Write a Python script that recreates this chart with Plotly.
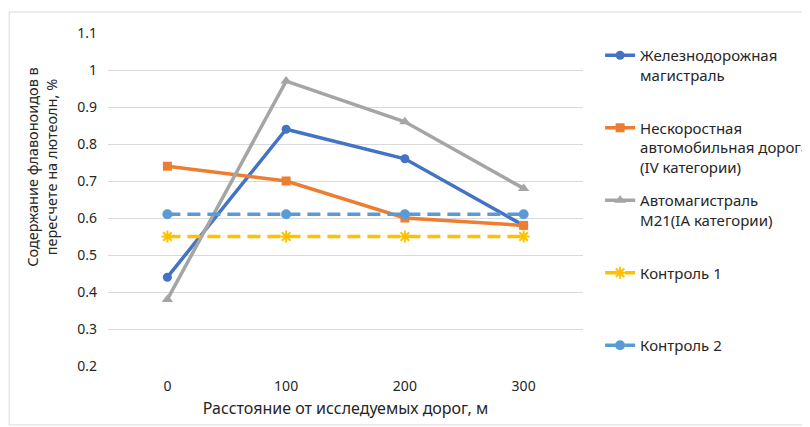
import plotly.graph_objects as go

categories = ["0", "100", "200", "300"]
railway = [0.44, 0.84, 0.76, 0.58]
local_road = [0.74, 0.70, 0.60, 0.58]
highway = [0.38, 0.97, 0.86, 0.68]
control1 = [0.55, 0.55, 0.55, 0.55]
control2 = [0.61, 0.61, 0.61, 0.61]
y_ticks = [0.2, 0.3, 0.4, 0.5, 0.6, 0.7, 0.8, 0.9, 1.0, 1.1]

names = [
    "Железнодорожная<br>магистраль<br> ",
    "Нескоростная<br>автомобильная дорога<br>(IV категории)",
    "Автомагистраль<br>M21(IA категории)<br> ",
    "Контроль 1<br> <br> ",
    "Контроль 2",
]
y_title = "Содержание флавоноидов в<br>пересчете на лютеолн, %"
x_title = "Расстояние от исследуемых дорог, м"

FONT = "Noto Sans"
fig = go.Figure()

series = [
    (railway, "#4472C4", "circle", "solid", 9),
    (local_road, "#ED7D31", "square", "solid", 9),
    (highway, "#A5A5A5", "triangle-up", "solid", 10),
    (control1, "#FFC000", "asterisk-open", "13px,7px", 10),
    (control2, "#5B9BD5", "circle", "13px,7px", 10),
]

for i, (vals, color, sym, dash, size) in enumerate(series):
    fig.add_trace(go.Scatter(
        x=categories, y=vals, name=names[i], mode="lines+markers",
        legendgroup=f"g{i}",
        line=dict(color=color, width=3.5, dash=dash),
        marker=dict(symbol=sym, size=size, color=color,
                    line=dict(color=color, width=2 if sym == "asterisk-open" else 0)),
    ))

fig.update_layout(
    width=810, height=427,
    margin=dict(l=100, r=235, t=25, b=69, autoexpand=False),
    paper_bgcolor="white", plot_bgcolor="white",
    font=dict(family=FONT, size=13, color="#404040"),
    showlegend=True,
    legend=dict(
        x=1.036, y=0.982, xanchor="left", yanchor="top",
        valign="top", tracegroupgap=11,
        font=dict(family=FONT, size=15, color="#262626"),
        bgcolor="rgba(0,0,0,0)",
    ),
    xaxis=dict(
        type="category", range=[-0.5, 3.5],
        showgrid=False, showline=False, zeroline=False,
        ticks="", ticklabelstandoff=10,
        tickfont=dict(size=14, color="#262626"),
        title=dict(text=x_title,
                   font=dict(size=16, color="#262626"), standoff=8),
        automargin=False,
    ),
    yaxis=dict(
        range=[0.2, 1.1], tickvals=y_ticks,
        ticktext=[f"{v:g}" for v in y_ticks],
        showgrid=True, gridcolor="#D9D9D9", gridwidth=1,
        zeroline=False, showline=False, ticks="", ticklabelstandoff=10,
        tickfont=dict(size=14, color="#262626"),
        automargin=False,
    ),
    annotations=[dict(
        text=y_title, textangle=-90, showarrow=False,
        xref="paper", yref="paper", x=-0.139, y=0.598,
        xanchor="center", yanchor="middle",
        font=dict(family=FONT, size=14.5, color="#262626"),
    )],
    shapes=[dict(type="rect", xref="paper", yref="paper",
                 x0=-0.208, x1=1.49, y0=-0.177, y1=1.063,
                 line=dict(color="#D9D9D9", width=1), layer="below")],
)

fig.write_html("out.html")
